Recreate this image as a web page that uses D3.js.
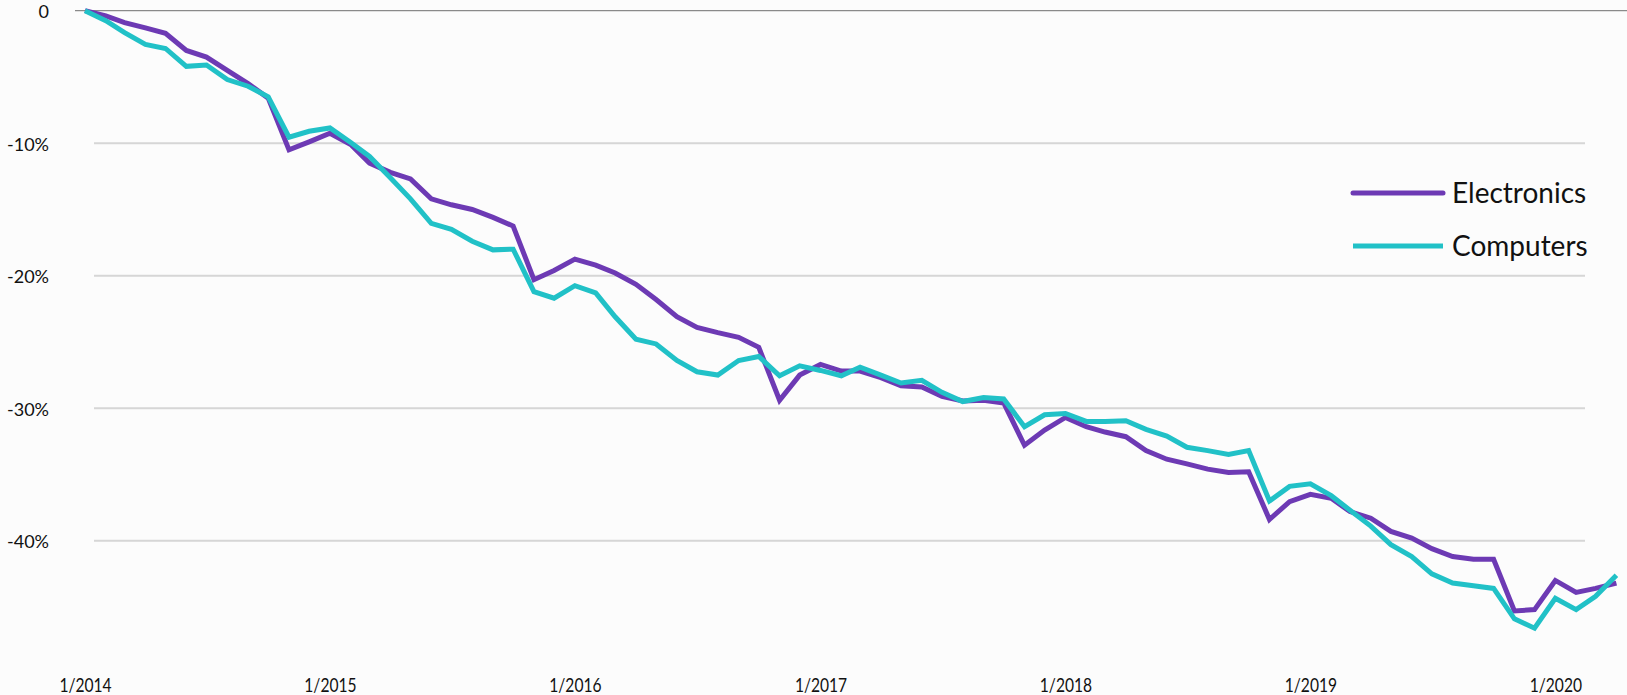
<!DOCTYPE html>
<html>
<head>
<meta charset="utf-8">
<script src="https://cdn.jsdelivr.net/npm/d3@7"></script>
<style>
  html, body { margin: 0; padding: 0; background: #fcfcfc; }
  svg { display: block; }
  text { font-family: Lato, "Open Sans", sans-serif; fill: #111; }
</style>
</head>
<body>
<svg id="chart" width="1627" height="695"></svg>
<script>
// Monthly change since 1/2014, in percent (January 2014 – April 2020)
const startMonth = new Date(2014, 0, 1);
const seriesNames = ["Electronics", "Computers"];
const seriesColors = ["#6d3ab4", "#21c1c7"];

const electronics = [
  0, -0.4, -0.9, -1.3, -1.7, -3.0, -3.5, -4.5, -5.5, -6.6, -10.5, -9.9,
  -9.25, -10.1, -11.5, -12.2, -12.7, -14.2, -14.65, -15.0, -15.6, -16.25, -20.3, -19.6,
  -18.75, -19.2, -19.8, -20.65, -21.8, -23.1, -23.9, -24.3, -24.65, -25.4, -29.4, -27.5,
  -26.7, -27.2, -27.2, -27.7, -28.3, -28.4, -29.1, -29.45, -29.4, -29.6, -32.8, -31.65,
  -30.7, -31.4, -31.8, -32.15, -33.2, -33.85, -34.2, -34.6, -34.85, -34.8, -38.4, -37.05,
  -36.5, -36.8, -37.8, -38.3, -39.3, -39.8, -40.6, -41.2, -41.4, -41.4, -45.3, -45.2,
  -43.0, -43.9, -43.6, -43.2
];

const computers = [
  0, -0.75, -1.65, -2.55, -2.85, -4.2, -4.1, -5.2, -5.7, -6.5, -9.55, -9.1,
  -8.85, -9.95, -11.0, -12.6, -14.2, -16.05, -16.5, -17.4, -18.05, -18.0, -21.2, -21.7,
  -20.75, -21.3, -23.1, -24.8, -25.15, -26.4, -27.25, -27.5, -26.4, -26.1, -27.55, -26.8,
  -27.15, -27.55, -26.9, -27.5, -28.1, -27.9, -28.8, -29.5, -29.2, -29.3, -31.4, -30.5,
  -30.4, -31.0, -31.0, -30.95, -31.6, -32.1, -32.95, -33.2, -33.5, -33.2, -37.0, -35.9,
  -35.7, -36.6, -37.7, -38.9, -40.3, -41.2, -42.5, -43.2, -43.4, -43.6, -45.9, -46.6,
  -44.35, -45.2, -44.2, -42.6
];

const yTickValues = [0, -10, -20, -30, -40];
const yTickLabels = ["0", "-10%", "-20%", "-30%", "-40%"];
const xTickYears = [2014, 2015, 2016, 2017, 2018, 2019, 2020];

const svg = d3.select("#chart");

const dates = electronics.map((_, i) => new Date(2014, i, 1));
const x = d3.scaleTime()
  .domain([startMonth, dates[dates.length - 1]])
  .range([85, 1616.4]);
const y = d3.scaleLinear()
  .domain([0, -40])
  .range([10.7, 540.7]);

// Horizontal gridlines
svg.append("g")
  .selectAll("line")
  .data(yTickValues.filter(v => v !== 0))
  .join("line")
  .attr("x1", 94).attr("x2", 1585)
  .attr("y1", d => y(d)).attr("y2", d => y(d))
  .attr("stroke", "#d6d6d6")
  .attr("stroke-width", 2);

// Zero baseline
svg.append("line")
  .attr("x1", 75).attr("x2", 1627)
  .attr("y1", y(0)).attr("y2", y(0))
  .attr("stroke", "#8a8a8a")
  .attr("stroke-width", 1.3);

// Y axis labels
const yAxis = d3.axisLeft(y)
  .tickValues(yTickValues)
  .tickFormat((d, i) => yTickLabels[i])
  .tickSize(0)
  .tickPadding(0);
const yAxisG = svg.append("g")
  .attr("transform", "translate(49,0)")
  .call(yAxis);
yAxisG.select(".domain").remove();
yAxisG.selectAll("text")
  .attr("font-family", "Lato, 'Open Sans', sans-serif")
  .attr("font-size", 18)
  .attr("fill", "#111")
  .attr("dy", "0.38em");

// X axis labels
const xAxis = d3.axisBottom(x)
  .tickValues(xTickYears.map(yr => new Date(yr, 0, 1)))
  .tickFormat(d => "1/" + d.getFullYear())
  .tickSize(0)
  .tickPadding(0);
const xAxisG = svg.append("g")
  .attr("transform", "translate(0,692)")
  .call(xAxis);
xAxisG.select(".domain").remove();
xAxisG.selectAll("text")
  .attr("font-family", "Lato, 'Open Sans', sans-serif")
  .attr("font-size", 19.5)
  .attr("fill", "#111")
  .attr("y", 0)
  .attr("dy", 0)
  .attr("transform", "scale(0.8,1)");

// Series lines
const line = d3.line()
  .x((d, i) => x(dates[i]))
  .y(d => y(d));

[electronics, computers].forEach((vals, k) => {
  svg.append("path")
    .datum(vals)
    .attr("fill", "none")
    .attr("stroke", seriesColors[k])
    .attr("stroke-width", 5)
    .attr("stroke-linejoin", "miter")
    .attr("d", line);
});

// Legend
const legend = svg.append("g");
const legendRows = [193, 246];
seriesNames.forEach((name, k) => {
  legend.append("line")
    .attr("x1", 1353).attr("x2", 1443)
    .attr("y1", legendRows[k]).attr("y2", legendRows[k])
    .attr("stroke", seriesColors[k])
    .attr("stroke-width", 5)
    .attr("stroke-linecap", k === 0 ? "round" : "butt");
  legend.append("text")
    .attr("x", 1452)
    .attr("y", legendRows[k] + 10)
    .attr("font-size", 28)
    .text(name);
});
</script>
</body>
</html>
